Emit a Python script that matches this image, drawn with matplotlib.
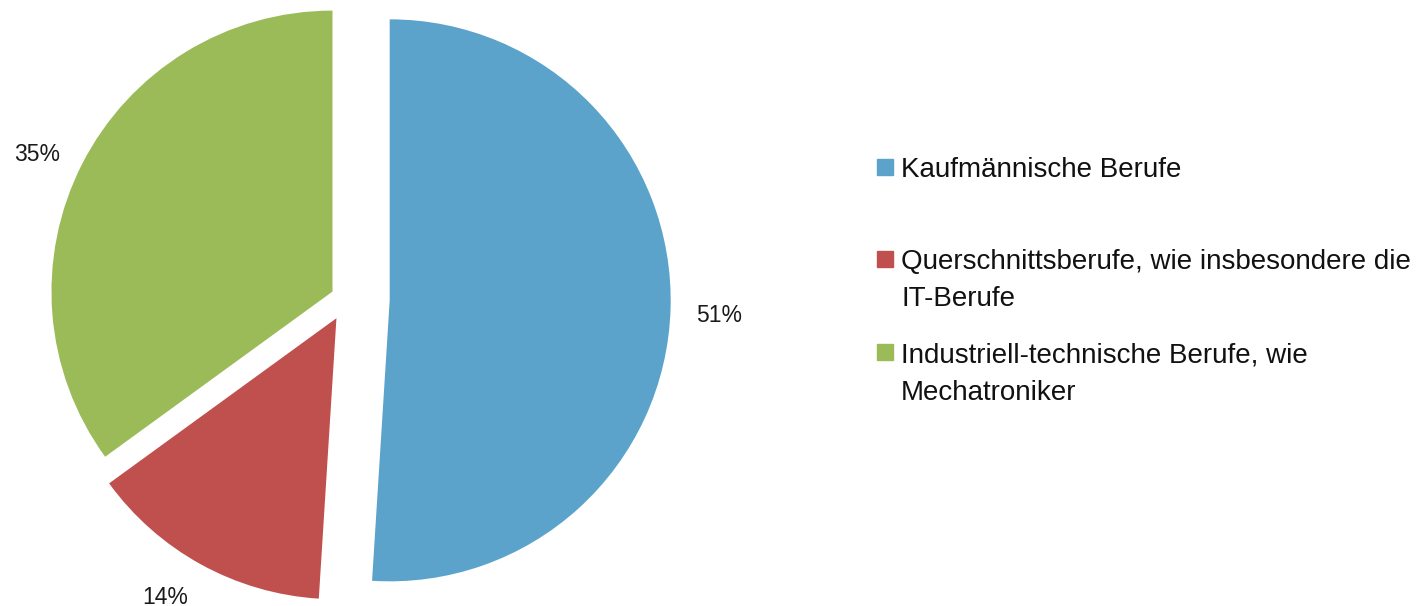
import matplotlib
matplotlib.use("Agg")
import matplotlib.pyplot as plt
from matplotlib.patches import Rectangle

plt.rcParams['font.family'] = ['Liberation Sans', 'DejaVu Sans']

labels = ["Kaufmännische Berufe",
          "Querschnittsberufe, wie insbesondere die\nIT-Berufe",
          "Industriell-technische Berufe, wie\nMechatroniker"]
shares = [51, 14, 35]
colors = ["#5BA3CB", "#C0504D", "#9BBB59"]
explode = [0.152, 0.078, 0.058]

W, H = 1427, 606
fig = plt.figure(figsize=(W / 100, H / 100), dpi=100)

# pie centre in pixels and radius in pixels
cx, cy, rad = 347, 299, 281
ax = fig.add_axes([0, 0, 1, 1])
wedges, texts, autotexts = ax.pie(shares, colors=colors, explode=explode,
                                  startangle=90, counterclock=False,
                                  autopct='%1.0f%%', pctdistance=1.17,
                                  textprops=dict(fontsize=16.5, color='#1a1a1a'))
ax.set_xlim(-cx / rad, (W - cx) / rad)
ax.set_ylim(-(H - cy) / rad, cy / rad)
ax.set_aspect('auto')
ax.axis('off')

# nudge the percent labels (pixels) to where excel put them
nudge = [(1, -5), (-13, 9), (-2, -12)]
for t, (dx, dy) in zip(autotexts, nudge):
    x, y = t.get_position()
    t.set_position((x + dx / rad, y + dy / rad))

# legend, drawn by hand so the box sits next to the first line
entry_y = [177, 269, 362]   # baseline of first line, pixels from top
line_h = 37.5
for lab, col, yb in zip(labels, colors, entry_y):
    fig.add_artist(Rectangle((877 / W, 1 - (yb - 2) / H), 16 / W, 16 / H,
                             transform=fig.transFigure, color=col))
    for i, line in enumerate(lab.split("\n")):
        fig.text(901 / W, 1 - (yb + i * line_h) / H, line, fontsize=20,
                 va='baseline', ha='left', color='#111111')

fig.savefig("out.png", dpi=100)
